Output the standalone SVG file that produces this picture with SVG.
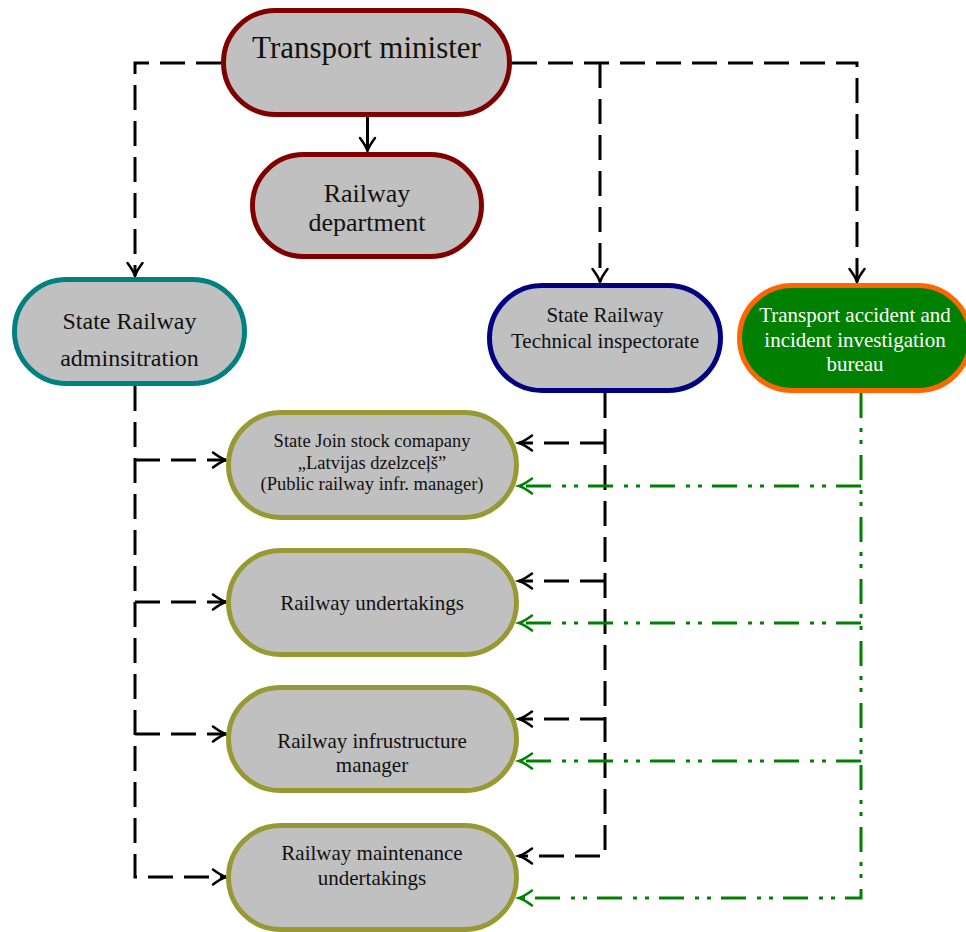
<svg xmlns="http://www.w3.org/2000/svg" width="966" height="932" viewBox="0 0 966 932">
<style>
.node{fill:#c0c0c0;stroke-width:5}
.red{stroke:#800000}
.teal{stroke:#008080}
.navy{stroke:#000080}
.olive{stroke:#999933}
.orange{stroke:#ff6600;fill:#008000}
text{font-family:"Liberation Serif","Times New Roman",serif;fill:#111;text-anchor:middle}
.wt{fill:#ffffff}
.c{fill:none;stroke-width:3}
.dash{stroke:#000;stroke-dasharray:25 11}
.solid{stroke:#000}
.dd{stroke:#008000;stroke-dasharray:25 10 4 8 4 11}
</style>
<defs>
<marker id="ak" markerUnits="userSpaceOnUse" viewBox="-16 -10 18 20" markerWidth="18" markerHeight="20" refX="0" refY="0" orient="auto" overflow="visible">
<path d="M-13,-7.5 Q-5,-1.5 0,0 Q-5,1.5 -13,7.5" fill="none" stroke="#000" stroke-width="2.5" stroke-linecap="round"/>
</marker>
<marker id="ag" markerUnits="userSpaceOnUse" viewBox="-16 -10 18 20" markerWidth="18" markerHeight="20" refX="0" refY="0" orient="auto" overflow="visible">
<path d="M-13,-7.5 Q-5,-1.5 0,0 Q-5,1.5 -13,7.5" fill="none" stroke="#008000" stroke-width="2.5" stroke-linecap="round"/>
</marker>
</defs>

<g id="connectors">
<path class="c solid" d="M367.5,117 V151" marker-end="url(#ak)"/>
<path class="c dash" d="M221,63 H135 V276" marker-end="url(#ak)"/>
<path class="c dash" d="M512,63 H857 V282" marker-end="url(#ak)"/>
<path class="c dash" d="M600,63 V282" marker-end="url(#ak)"/>

<path class="c dash" d="M135,386 V877 H226" marker-end="url(#ak)"/>
<path class="c dash" d="M135,460 H226" marker-end="url(#ak)"/>
<path class="c dash" d="M135,602 H226" marker-end="url(#ak)"/>
<path class="c dash" d="M135,734 H226" marker-end="url(#ak)"/>

<path class="c dash" d="M605,393 V856 H519" marker-end="url(#ak)"/>
<path class="c dash" d="M605,443 H519" marker-end="url(#ak)"/>
<path class="c dash" d="M605,581 H519" marker-end="url(#ak)"/>
<path class="c dash" d="M605,719 H519" marker-end="url(#ak)"/>

<path class="c dd" d="M861,393 V898 H519" marker-end="url(#ag)"/>
<path class="c dd" d="M861,486 H519" marker-end="url(#ag)"/>
<path class="c dd" d="M861,623 H519" marker-end="url(#ag)"/>
<path class="c dd" d="M861,761 H519" marker-end="url(#ag)"/>
</g>

<g id="transport-minister">
<rect class="node red" x="223.5" y="10.5" width="286" height="104" rx="52"/>
<text x="366.5" y="58" font-size="31">Transport minister</text>
</g>

<g id="railway-department">
<rect class="node red" x="252.5" y="154.5" width="229" height="102" rx="51"/>
<text x="367" y="202" font-size="26">Railway</text>
<text x="367" y="231" font-size="26">department</text>
</g>

<g id="state-railway-administration">
<rect class="node teal" x="14.5" y="279.5" width="230" height="104" rx="52"/>
<text x="129.5" y="329" font-size="24">State Railway</text>
<text x="129.5" y="366" font-size="24">adminsitration</text>
</g>

<g id="technical-inspectorate">
<rect class="node navy" x="489.5" y="285.5" width="231" height="105" rx="52.5"/>
<text x="605" y="322" font-size="21">State Railway</text>
<text x="605" y="348" font-size="21">Technical inspectorate</text>
</g>

<g id="investigation-bureau">
<rect class="node orange" x="739.5" y="285.5" width="231" height="105" rx="52.5"/>
<text class="wt" x="855" y="322" font-size="21">Transport accident and</text>
<text class="wt" x="855" y="346.5" font-size="21">incident investigation</text>
<text class="wt" x="855" y="371" font-size="21">bureau</text>
</g>

<g id="latvijas-dzelzcels">
<rect class="node olive" x="228.5" y="412.5" width="288" height="105" rx="52.5"/>
<text x="372" y="447" font-size="18.5">State Join stock comapany</text>
<text x="372" y="469" font-size="18.5">„Latvijas dzelzceļš”</text>
<text x="372" y="490" font-size="18.5">(Public railway infr. manager)</text>
</g>

<g id="railway-undertakings">
<rect class="node olive" x="228.5" y="550.5" width="288" height="104" rx="52"/>
<text x="372" y="610" font-size="21">Railway undertakings</text>
</g>

<g id="infrastructure-manager">
<rect class="node olive" x="228.5" y="687.5" width="288" height="103" rx="51.5"/>
<text x="372" y="748" font-size="21">Railway infrustructure</text>
<text x="372" y="772" font-size="21">manager</text>
</g>

<g id="maintenance-undertakings">
<rect class="node olive" x="228.5" y="825.5" width="288" height="104" rx="52"/>
<text x="372" y="860" font-size="21">Railway maintenance</text>
<text x="372" y="885" font-size="21">undertakings</text>
</g>
</svg>
